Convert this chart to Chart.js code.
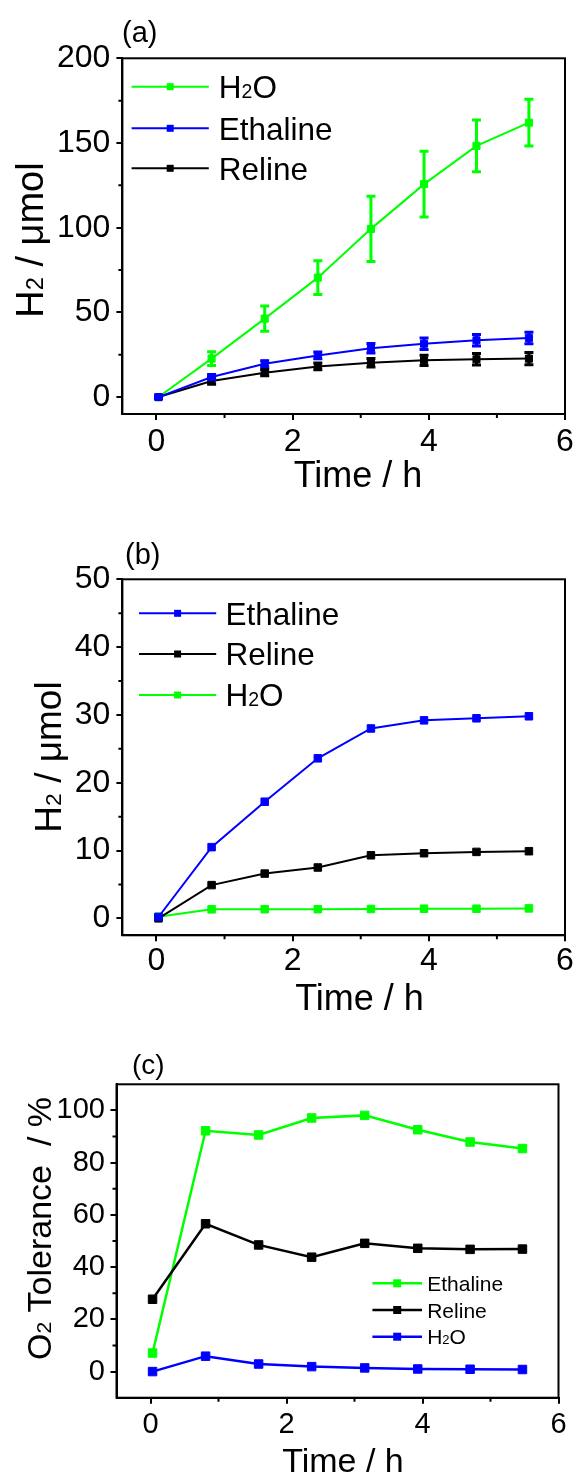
<!DOCTYPE html>
<html><head><meta charset="utf-8">
<script src="https://cdn.jsdelivr.net/npm/chart.js@4.4.0/dist/chart.umd.min.js"></script>
<style>
html,body{margin:0;padding:0;background:#fff;overflow:hidden;width:575px;height:1476px;position:relative;}
canvas{position:absolute;left:0;}
</style></head><body>
<canvas id="ca" width="620" height="500" style="top:0px"></canvas>
<canvas id="cb" width="620" height="520" style="top:500px"></canvas>
<canvas id="cc" width="620" height="476" style="top:1000px"></canvas>
<script>
// ---------- data ----------
const timeH = [0.03, 0.81, 1.59, 2.37, 3.15, 3.93, 4.70, 5.47];
const xTicks = [0, 2, 4, 6];
const xMinorTicks = [1, 3, 5];

// panel (a): H2 / umol with error bars
const a_H2O = [0, 22.7, 46.3, 70.5, 99.3, 125.7, 148.3, 162.0];
const a_H2O_err = [0.5, 4.0, 7.5, 10.0, 19.2, 19.4, 15.3, 13.8];
const a_Ethaline = [0, 11.8, 19.7, 24.6, 28.8, 31.5, 33.5, 34.9];
const a_Ethaline_err = [0.5, 1.5, 1.8, 2.0, 2.8, 3.4, 3.4, 3.4];
const a_Reline = [0, 9.5, 14.4, 18.1, 20.3, 21.7, 22.3, 22.7];
const a_Reline_err = [0.5, 2.0, 1.8, 2.0, 2.5, 3.0, 3.4, 3.6];
const a_yTicks = [0, 50, 100, 150, 200];
const a_yMinor = [25, 75, 125, 175];

// panel (b): H2 / umol
const b_Ethaline = [0.2, 10.5, 17.2, 23.6, 28.0, 29.2, 29.5, 29.8];
const b_Reline = [0.0, 4.9, 6.6, 7.5, 9.3, 9.6, 9.8, 9.9];
const b_H2O = [0.25, 1.33, 1.35, 1.35, 1.38, 1.42, 1.42, 1.47];
const b_yTicks = [0, 10, 20, 30, 40, 50];
const b_yMinor = [5, 15, 25, 35, 45];

// panel (c): O2 tolerance / %
const c_Ethaline = [7.1, 92.2, 90.6, 97.1, 98.1, 92.6, 87.9, 85.4];
const c_Reline = [27.7, 56.6, 48.5, 43.8, 49.1, 47.2, 46.8, 46.9];
const c_H2O = [0.0, 5.9, 2.9, 1.9, 1.4, 1.0, 0.9, 0.8];
const c_yTicks = [0, 20, 40, 60, 80, 100];
const c_yMinor = [10, 30, 50, 70, 90];

const GREEN = '#00ff00', BLUE = '#0000ff', BLACK = '#000000';
const FONT = '"Liberation Sans", Arial, sans-serif';

// ---------- helpers ----------
function pts(ys) { return timeH.map((x, i) => ({ x: x, y: ys[i] })); }
function series(label, ys, color, r, lw, errs) {
  return { label: label, data: pts(ys), borderColor: color, backgroundColor: color,
    pointBackgroundColor: color, pointBorderColor: color, pointStyle: 'rect',
    pointRadius: r, pointHoverRadius: r, pointBorderWidth: 1, borderWidth: lw,
    tension: 0, fill: false, errors: errs || null };
}
function drawRich(ctx, parts, size, cx, cy, align, rot) {
  const widths = parts.map(p => { ctx.font = (p[1] ? size * 0.62 : size) + 'px ' + FONT; return ctx.measureText(p[0]).width; });
  const total = widths.reduce((a, b) => a + b, 0);
  ctx.save();
  ctx.translate(cx, cy);
  if (rot) ctx.rotate(-Math.PI / 2);
  let x = align === 'left' ? 0 : -total / 2;
  ctx.fillStyle = '#000';
  ctx.textBaseline = 'alphabetic';
  ctx.textAlign = 'left';
  parts.forEach((p, i) => {
    ctx.font = (p[1] ? size * 0.62 : size) + 'px ' + FONT;
    ctx.fillText(p[0], x, 0.358 * size);
    x += widths[i];
  });
  ctx.restore();
}

const CFG = {};
const decor = {
  id: 'decor',
  afterDatasetDraw(chart, args) {
    const d = chart.data.datasets[args.index];
    if (!d.errors) return;
    const ctx = chart.ctx, xs = chart.scales.x, ys = chart.scales.y;
    ctx.save();
    ctx.strokeStyle = d.borderColor;
    ctx.lineWidth = 3;
    d.data.forEach((p, i) => {
      const e = d.errors[i];
      const px = xs.getPixelForValue(p.x);
      const y1 = ys.getPixelForValue(p.y - e), y2 = ys.getPixelForValue(p.y + e);
      ctx.beginPath();
      ctx.moveTo(px, y1); ctx.lineTo(px, y2);
      ctx.moveTo(px - 4.5, y1); ctx.lineTo(px + 4.5, y1);
      ctx.moveTo(px - 4.5, y2); ctx.lineTo(px + 4.5, y2);
      ctx.stroke();
    });
    ctx.restore();
  },
  afterDraw(chart) {
    const c = CFG[chart.canvas.id];
    const ctx = chart.ctx, a = chart.chartArea, xs = chart.scales.x, ys = chart.scales.y;
    const off = c.top;
    ctx.save();
    ctx.strokeStyle = '#000'; ctx.lineWidth = 2;
    ctx.strokeRect(a.left, a.top, a.right - a.left, a.bottom - a.top);
    ctx.beginPath();
    c.xMinor.forEach(v => { const px = xs.getPixelForValue(v); ctx.moveTo(px, a.bottom); ctx.lineTo(px, a.bottom + 4); });
    c.yMinor.forEach(v => { const py = ys.getPixelForValue(v); ctx.moveTo(a.left - 4, py); ctx.lineTo(a.left, py); });
    ctx.stroke();
    ctx.restore();
    ctx.save();
    ctx.fillStyle = '#000'; ctx.font = c.labelSize + 'px ' + FONT;
    ctx.textBaseline = 'alphabetic'; ctx.textAlign = 'left';
    ctx.fillText(c.label, c.labelX, c.labelBase - off);
    ctx.restore();
    drawRich(ctx, c.yTitle, c.yTitleSize, c.yTitleX, c.yTitleY - off, 'center', true);
    drawRich(ctx, c.xTitle, c.xTitleSize, c.xTitleX, c.xTitleY - off, 'center', false);
    const L = c.legend;
    L.items.forEach((it, k) => {
      const y = L.rows[k] - off;
      ctx.save();
      ctx.strokeStyle = it.color; ctx.lineWidth = L.lw;
      ctx.beginPath(); ctx.moveTo(L.x1, y); ctx.lineTo(L.x2, y); ctx.stroke();
      const s = L.marker;
      ctx.fillStyle = it.color;
      ctx.fillRect((L.x1 + L.x2) / 2 - s / 2, y - s / 2, s, s);
      ctx.restore();
      drawRich(ctx, it.parts, L.size, L.tx, y, 'left', false);
    });
  }
};

function makeChart(id, c, datasets) {
  CFG[id] = c;
  const canvas = document.getElementById(id);
  const W = canvas.width, H = canvas.height;
  const A = c.area;
  const tickFont = { family: FONT, size: c.tickSize };
  return new Chart(canvas, {
    type: 'line',
    data: { datasets: datasets },
    options: {
      responsive: false, animation: false, devicePixelRatio: 1,
      layout: { padding: { left: 0, top: A.t - c.top, right: W - A.r, bottom: 0 } },
      plugins: { legend: { display: false }, tooltip: { enabled: false } },
      elements: { line: { tension: 0 } },
      scales: {
        x: {
          type: 'linear', min: -0.5, max: 6,
          afterBuildTicks: s => { s.ticks = xTicks.map(v => ({ value: v })); },
          afterFit: s => { s.height = (c.top + H) - A.b; },
          ticks: { color: '#000', font: tickFont, padding: c.xPad, maxRotation: 0, autoSkip: false },
          grid: { display: true, drawOnChartArea: false, drawTicks: true, tickLength: 6, tickWidth: 2, tickColor: '#000', color: '#000', lineWidth: 2 },
          border: { display: true, color: '#000', width: 2 }
        },
        y: {
          type: 'linear', min: c.yMin, max: c.yMax,
          afterBuildTicks: s => { s.ticks = c.yTicks.map(v => ({ value: v })); },
          afterFit: s => { s.width = A.l; },
          ticks: { color: '#000', font: tickFont, padding: c.yPad, autoSkip: false },
          grid: { display: true, drawOnChartArea: false, drawTicks: true, tickLength: 6, tickWidth: 2, tickColor: '#000', color: '#000', lineWidth: 2 },
          border: { display: true, color: '#000', width: 2 }
        }
      }
    },
    plugins: [decor]
  });
}

// ---------- panel (a) ----------
makeChart('ca', {
  top: 0, area: { l: 122.4, r: 565, t: 58.3, b: 414 },
  yMin: -10, yMax: 200, yTicks: a_yTicks, yMinor: a_yMinor, xMinor: xMinorTicks,
  tickSize: 32, xPad: 3, yPad: 6,
  label: '(a)', labelSize: 29, labelX: 122, labelBase: 42,
  yTitle: [['H'], ['2', 1], [' / \u03bcmol']], yTitleSize: 38, yTitleX: 29.5, yTitleY: 240,
  xTitle: [['Time / h']], xTitleSize: 36, xTitleX: 358, xTitleY: 474,
  legend: { size: 31.5, x1: 131.6, x2: 208.8, tx: 218.8, rows: [86.7, 128.3, 168.3], lw: 2, marker: 7,
    items: [ { parts: [['H'], ['2', 1], ['O']], color: GREEN },
             { parts: [['Ethaline']], color: BLUE },
             { parts: [['Reline']], color: BLACK } ] }
}, [
  series('Ethaline', a_Ethaline, BLUE, 5, 2, a_Ethaline_err),
  series('Reline', a_Reline, BLACK, 5, 2, a_Reline_err),
  series('H2O', a_H2O, GREEN, 5, 2, a_H2O_err)
]);

// ---------- panel (b) ----------
makeChart('cb', {
  top: 500, area: { l: 122.4, r: 565, t: 579.3, b: 935.3 },
  yMin: -2.5, yMax: 50, yTicks: b_yTicks, yMinor: b_yMinor, xMinor: xMinorTicks,
  tickSize: 32, xPad: 1, yPad: 6,
  label: '(b)', labelSize: 29, labelX: 125, labelBase: 563.5,
  yTitle: [['H'], ['2', 1], [' / \u03bcmol']], yTitleSize: 37, yTitleX: 48, yTitleY: 757,
  xTitle: [['Time / h']], xTitleSize: 36, xTitleX: 359.5, xTitleY: 997,
  legend: { size: 31.5, x1: 139, x2: 216.2, tx: 225.4, rows: [613.3, 654, 695], lw: 2, marker: 7,
    items: [ { parts: [['Ethaline']], color: BLUE },
             { parts: [['Reline']], color: BLACK },
             { parts: [['H'], ['2', 1], ['O']], color: GREEN } ] }
}, [
  series('Ethaline', b_Ethaline, BLUE, 5.3, 2),
  series('Reline', b_Reline, BLACK, 5.3, 2),
  series('H2O', b_H2O, GREEN, 5.3, 2)
]);

// ---------- panel (c) ----------
makeChart('cc', {
  top: 1000, area: { l: 116.5, r: 558.5, t: 1084.3, b: 1397.7 },
  yMin: -10, yMax: 110, yTicks: c_yTicks, yMinor: c_yMinor, xMinor: xMinorTicks,
  tickSize: 29, xPad: 4, yPad: 5.5,
  label: '(c)', labelSize: 28, labelX: 132, labelBase: 1074,
  yTitle: [['O'], ['2', 1], [' Tolerance  / %']], yTitleSize: 34, yTitleX: 38.5, yTitleY: 1228.5,
  xTitle: [['Time / h']], xTitleSize: 34, xTitleX: 343, xTitleY: 1460,
  legend: { size: 21, x1: 372.4, x2: 422, tx: 427.2, rows: [1283.3, 1310, 1336.7], lw: 2.5, marker: 8,
    items: [ { parts: [['Ethaline']], color: GREEN },
             { parts: [['Reline']], color: BLACK },
             { parts: [['H'], ['2', 1], ['O']], color: BLUE } ] }
}, [
  series('H2O', c_H2O, BLUE, 6, 2.5),
  series('Reline', c_Reline, BLACK, 6, 2.5),
  series('Ethaline', c_Ethaline, GREEN, 6, 2.5)
]);
</script>
</body></html>
